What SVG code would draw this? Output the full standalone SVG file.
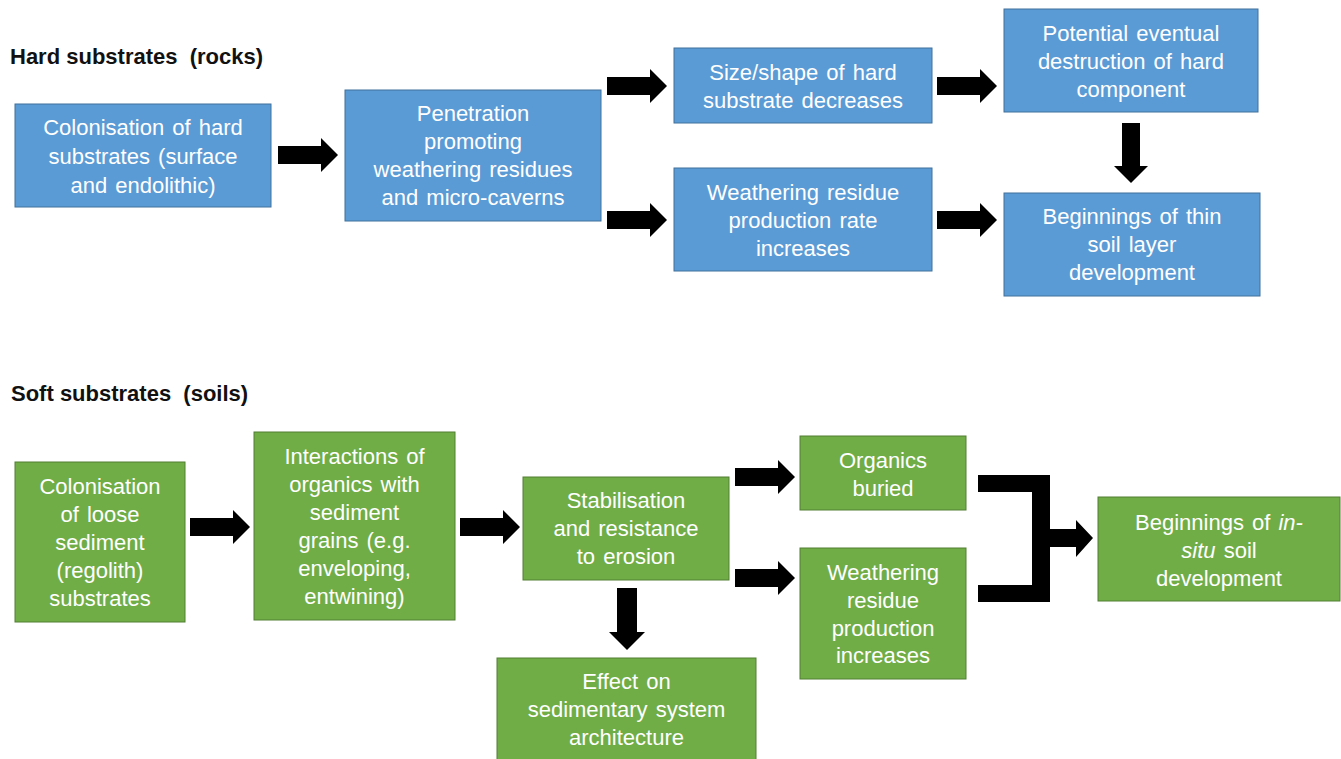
<svg xmlns="http://www.w3.org/2000/svg" width="1341" height="759" viewBox="0 0 1341 759">
<defs>
<style>
.blue{fill:#5b9bd5;stroke:#41719c;stroke-width:1}
.green{fill:#70ad47;stroke:#507e32;stroke-width:1}
.t{font-family:"Liberation Sans",Arial,sans-serif;font-size:22px;fill:#ffffff;text-anchor:middle;word-spacing:2px}
.title{font-family:"Liberation Sans",Arial,sans-serif;font-size:22px;font-weight:bold;fill:#111111;white-space:pre}
.arr{fill:#000000}
</style>
<path id="ra" d="M0,-9 H43 V-17 L60,0 L43,17 V9 H0 Z"/>
</defs>
<rect width="1341" height="759" fill="#ffffff"/>
<text class="title" x="10" y="64" xml:space="preserve">Hard substrates  (rocks)</text>
<text class="title" x="11" y="401" xml:space="preserve">Soft substrates  (soils)</text>

<g id="connectors" class="arr">
<use href="#ra" x="278" y="155"/>
<use href="#ra" x="607" y="86"/>
<use href="#ra" x="607" y="220"/>
<use href="#ra" x="937" y="86"/>
<use href="#ra" x="937" y="220"/>
<use href="#ra" transform="translate(1131,123) rotate(90)"/>
<use href="#ra" x="190" y="527"/>
<use href="#ra" x="460" y="527"/>
<use href="#ra" x="735" y="477"/>
<use href="#ra" x="735" y="578"/>
<path d="M617,588 H637 V632 H645 L627,650 L609,632 H617 Z"/>
<path d="M978,475 H1050 V529 H1076 V520 L1093,538 L1076,557 V547 H1050 V602 H978 V585 H1032 V547 H1032 V492 H978 Z"/>
</g>

<g id="b1"><rect class="blue" x="15" y="104" width="256" height="103"/>
<text class="t"><tspan x="143" y="135">Colonisation of hard</tspan><tspan x="143" y="164">substrates (surface</tspan><tspan x="143" y="193">and endolithic)</tspan></text></g>
<g id="b2"><rect class="blue" x="345" y="90" width="256" height="131"/>
<text class="t"><tspan x="473" y="121">Penetration</tspan><tspan x="473" y="149">promoting</tspan><tspan x="473" y="177">weathering residues</tspan><tspan x="473" y="205">and micro-caverns</tspan></text></g>
<g id="b3"><rect class="blue" x="674" y="48" width="258" height="75"/>
<text class="t"><tspan x="803" y="80">Size/shape of hard</tspan><tspan x="803" y="108">substrate decreases</tspan></text></g>
<g id="b4"><rect class="blue" x="674" y="168" width="258" height="103"/>
<text class="t"><tspan x="803" y="200">Weathering residue</tspan><tspan x="803" y="228">production rate</tspan><tspan x="803" y="256">increases</tspan></text></g>
<g id="b5"><rect class="blue" x="1004" y="9" width="254" height="103"/>
<text class="t"><tspan x="1131" y="41">Potential eventual</tspan><tspan x="1131" y="69">destruction of hard</tspan><tspan x="1131" y="97">component</tspan></text></g>
<g id="b6"><rect class="blue" x="1004" y="193" width="256" height="103"/>
<text class="t"><tspan x="1132" y="224">Beginnings of thin</tspan><tspan x="1132" y="252">soil layer</tspan><tspan x="1132" y="280">development</tspan></text></g>

<g id="g1"><rect class="green" x="15" y="462" width="170" height="160"/>
<text class="t"><tspan x="100" y="494">Colonisation</tspan><tspan x="100" y="522">of loose</tspan><tspan x="100" y="550">sediment</tspan><tspan x="100" y="578">(regolith)</tspan><tspan x="100" y="606">substrates</tspan></text></g>
<g id="g2"><rect class="green" x="254" y="432" width="201" height="188"/>
<text class="t"><tspan x="354.5" y="464">Interactions of</tspan><tspan x="354.5" y="492">organics with</tspan><tspan x="354.5" y="520">sediment</tspan><tspan x="354.5" y="548">grains (e.g.</tspan><tspan x="354.5" y="576">enveloping,</tspan><tspan x="354.5" y="604">entwining)</tspan></text></g>
<g id="g3"><rect class="green" x="523" y="477" width="206" height="103"/>
<text class="t"><tspan x="626" y="508">Stabilisation</tspan><tspan x="626" y="536">and resistance</tspan><tspan x="626" y="564">to erosion</tspan></text></g>
<g id="g4"><rect class="green" x="800" y="436" width="166" height="74"/>
<text class="t"><tspan x="883" y="468">Organics</tspan><tspan x="883" y="496">buried</tspan></text></g>
<g id="g5"><rect class="green" x="800" y="548" width="166" height="131"/>
<text class="t"><tspan x="883" y="580">Weathering</tspan><tspan x="883" y="608">residue</tspan><tspan x="883" y="636">production</tspan><tspan x="883" y="663">increases</tspan></text></g>
<g id="g6"><rect class="green" x="1098" y="497" width="242" height="104"/>
<text class="t"><tspan x="1219" y="530">Beginnings of <tspan font-style="italic">in-</tspan></tspan><tspan x="1219" y="558"><tspan font-style="italic">situ</tspan> soil</tspan><tspan x="1219" y="586">development</tspan></text></g>
<g id="g7"><rect class="green" x="497" y="658" width="259" height="110"/>
<text class="t"><tspan x="626.5" y="689">Effect on</tspan><tspan x="626.5" y="717">sedimentary system</tspan><tspan x="626.5" y="745">architecture</tspan></text></g>
</svg>
